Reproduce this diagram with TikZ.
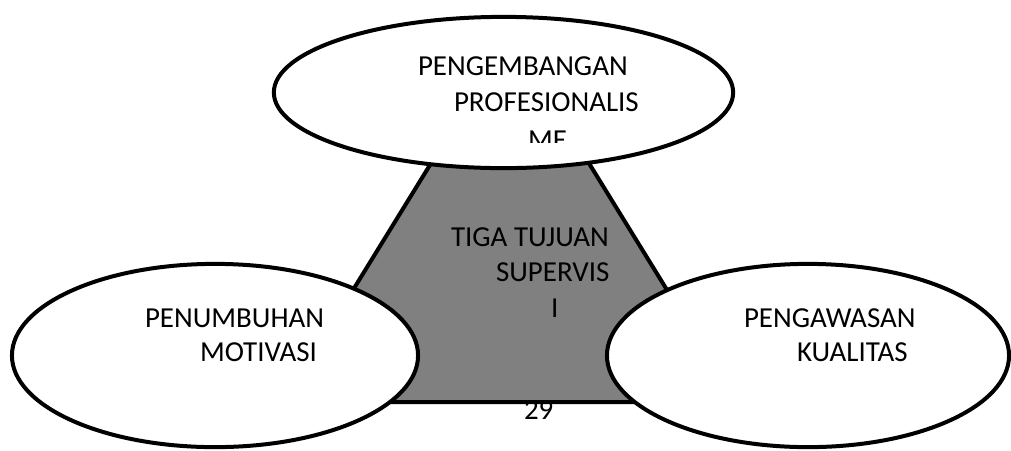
\documentclass[tikz,border=0pt]{standalone}
\usepackage{fontspec}
\setmainfont{Carlito}
\usetikzlibrary{shapes.geometric}

\begin{document}
\begin{tikzpicture}[x=0.025cm,y=-0.025cm,line width=0.1cm,
    every node/.style={font=\fontsize{20.6}{24}\selectfont,inner sep=0pt},
    bubble/.style={ellipse,draw=black,fill=white},
    lbl/.style={anchor=base west}]
      \useasboundingbox (0,0) rectangle (1011,450);
      \node (page) [lbl] at (522,419) {29};
      \draw [fill=gray] (510,35) -- (284,402) -- (736,402) -- cycle;
      \node (top) [bubble,minimum width=11.48cm,minimum height=3.78cm] at (503.5,92.5) {};
      \node (left) [bubble,minimum width=10.15cm,minimum height=4.58cm] at (215,355.5) {};
      \node (right) [bubble,minimum width=10.05cm,minimum height=4.58cm] at (808,355.5) {};
      \foreach \n/\x/\y/\t in {a1/416/75/PENGEMBANGAN,a2/452/111/PROFESIONALIS,
          b1/449/246/TIGA TUJUAN,b2/494/281/SUPERVIS,b3/549/317/I,
          c1/143/327/PENUMBUHAN,c2/198/361/MOTIVASI,
          d1/742/327/PENGAWASAN,d2/795/361/KUALITAS}{
        \node (\n) [lbl] at (\x,\y) {\t};
      }
      \begin{scope}
        \clip (400,120) rectangle (700,142);
        \node (a3) [lbl] at (526,149) {ME};
      \end{scope}
    \end{tikzpicture}
\end{document}
